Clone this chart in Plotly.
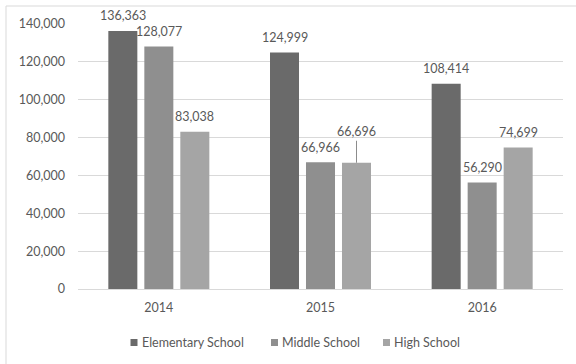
import plotly.graph_objects as go

years = ["2014", "2015", "2016"]
series_names = ["Elementary School", "Middle School", "High School"]
elementary = [136363, 124999, 108414]
middle = [128077, 66966, 56290]
high = [83038, 66696, 74699]
colors = ["#6a6a6a", "#8f8f8f", "#a5a5a5"]
y_ticks = [0, 20000, 40000, 60000, 80000, 100000, 120000, 140000]

FONT = "Lato, 'Open Sans', sans-serif"
TXT = "#595959"

W, H = 576, 364
L, R, T, B = 78, 13, 24, 75
pw = W - L - R
ph = H - T - B

def px_x(px):
    return (px - L) / pw

def px_y(py):
    return (H - B - py) / ph

fig = go.Figure()
all_series = [elementary, middle, high]
for name, vals, col in zip(series_names, all_series, colors):
    fig.add_trace(go.Bar(x=years, y=vals, name=name, marker=dict(color=col, line=dict(width=0)),
                         showlegend=False, hoverinfo="x+y"))

# data labels (x given as category index on the category axis)
shifts = [-36, 0, 36]
for si, vals in enumerate(all_series):
    for yi, v in enumerate(vals):
        txt = f"{v:,}"
        if series_names[si] == "High School" and years[yi] == "2015":
            fig.add_annotation(x=yi, y=v, xref="x", yref="y", text=txt, xshift=shifts[si],
                               showarrow=True, arrowhead=0, arrowwidth=1, arrowcolor="#8c8c8c",
                               ax=0, ay=-31, standoff=0,
                               font=dict(family=FONT, size=12.5, color=TXT))
        else:
            fig.add_annotation(x=yi, y=v, xref="x", yref="y", text=txt, xshift=shifts[si],
                               yshift=15, yanchor="middle", showarrow=False,
                               font=dict(family=FONT, size=12.5, color=TXT))

# legend (square swatch + label), laid out like the original
legend_marker_px = [134, 274.5, 386.5]
legend_y_px = 342.5
for name, col, mx in zip(series_names, colors, legend_marker_px):
    fig.add_shape(type="rect", xref="paper", yref="paper",
                  xsizemode="pixel", ysizemode="pixel",
                  xanchor=px_x(mx), yanchor=px_y(legend_y_px),
                  x0=-3.5, x1=3.5, y0=-3.5, y1=3.5,
                  line=dict(width=0), fillcolor=col)
    fig.add_annotation(xref="paper", yref="paper", x=px_x(mx + 5.5), y=px_y(legend_y_px),
                       xanchor="left", yanchor="middle", showarrow=False, text=name,
                       font=dict(family=FONT, size=12.5, color=TXT))

fig.add_shape(type="rect", xref="paper", yref="paper",
              x0=px_x(6), x1=px_x(W + 10),
              y0=px_y(H + 10), y1=px_y(6),
              line=dict(color="#d9d9d9", width=1), fillcolor="rgba(0,0,0,0)", layer="below")

fig.update_layout(
    width=W, height=H,
    margin=dict(l=L, r=R, t=T, b=B),
    paper_bgcolor="white", plot_bgcolor="white",
    barmode="group", bargap=0.332, bargroupgap=0.194,
    font=dict(family=FONT, size=12.5, color=TXT),
    showlegend=False,
    xaxis=dict(type="category", categoryorder="array", categoryarray=years,
               range=[-0.5, len(years) - 0.5],
               showgrid=False, showline=False, ticks="", ticklabelstandoff=9,
               tickfont=dict(family=FONT, size=12.5, color=TXT)),
    yaxis=dict(range=[0, 140000], tickvals=y_ticks, ticktext=[f"{v:,}" for v in y_ticks],
               showgrid=True, gridcolor="#d9d9d9", gridwidth=1, zeroline=True,
               zerolinecolor="#d9d9d9", zerolinewidth=1, showline=False, ticks="",
               ticklabelstandoff=12, tickfont=dict(family=FONT, size=12.5, color=TXT)),
)

fig.write_html("out.html")
